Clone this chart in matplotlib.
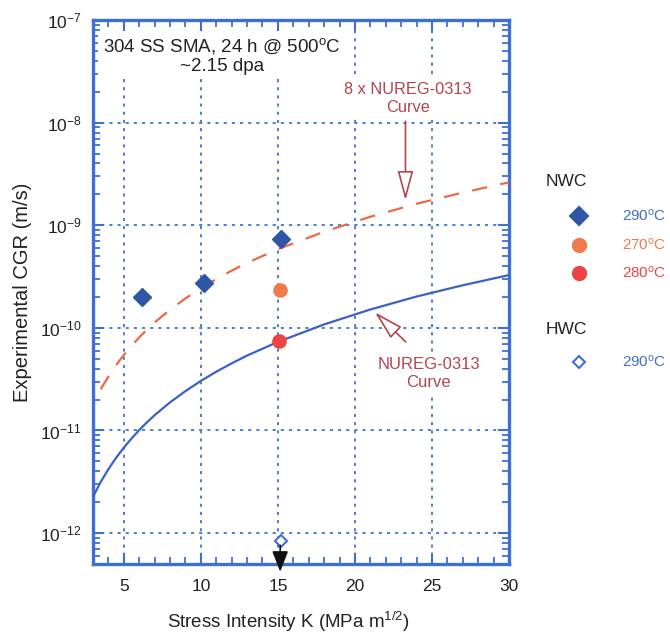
import matplotlib
matplotlib.use("Agg")
import matplotlib.pyplot as plt
from matplotlib.ticker import LogLocator, MultipleLocator, NullFormatter

plt.rcParams['font.family'] = ['Liberation Sans', 'DejaVu Sans']
plt.rcParams['mathtext.fontset'] = 'custom'
plt.rcParams['mathtext.rm'] = 'Liberation Sans'
plt.rcParams['mathtext.it'] = 'Liberation Sans'
plt.rcParams['mathtext.default'] = 'regular'

# NUREG-0313 disposition curve, CGR (m/s) vs K (MPa m^1/2)
K_nureg = [3, 3.5, 4, 4.5, 5, 5.5, 6, 6.5, 7, 8, 9, 10, 11, 12, 13, 15, 18, 21, 24, 27, 30]
cgr_nureg = [2.26e-12, 3.15e-12, 4.2e-12, 5.42e-12, 6.8e-12, 8.35e-12, 1.01e-11, 1.20e-11,
             1.41e-11, 1.88e-11, 2.42e-11, 3.04e-11, 3.74e-11, 4.51e-11, 5.37e-11, 7.3e-11,
             1.08e-10, 1.51e-10, 2.02e-10, 2.60e-10, 3.27e-10]

# 8 x NUREG-0313 curve
K_8x = [3.5, 4, 4.5, 5, 5.5, 6, 6.5, 7, 8, 9, 10, 11, 12, 13, 15, 18, 21, 24, 27, 30]
cgr_8x = [2.52e-11, 3.36e-11, 4.34e-11, 5.44e-11, 6.68e-11, 8.08e-11, 9.6e-11, 1.13e-10,
          1.50e-10, 1.94e-10, 2.43e-10, 2.99e-10, 3.61e-10, 4.30e-10, 5.84e-10, 8.64e-10,
          1.21e-9, 1.62e-9, 2.08e-9, 2.62e-9]

# Measured crack growth rates
K_nwc290 = [6.2, 10.2, 15.2]
cgr_nwc290 = [2.0e-10, 2.75e-10, 7.4e-10]
K_nwc270 = [15.15]
cgr_nwc270 = [2.33e-10]
K_nwc280 = [15.1]
cgr_nwc280 = [7.4e-11]
K_hwc290 = [15.2]
cgr_hwc290 = [8.4e-13]

x_ticks = [5, 10, 15, 20, 25, 30]

BLUE_AX = '#3f6fcf'
BLUE_GRID = '#4a7fd4'
BLUE_LINE = '#3a62c2'
DIAMOND = '#2f56a6'
ORANGE = '#f07a4c'
RED = '#ec4444'
DASH = '#ea6a44'
ANNOT = '#b4444e'
TEXT = '#222222'

W, H = 670, 634
fig = plt.figure(figsize=(W / 100, H / 100), dpi=100)
ax = fig.add_axes([93 / W, 1 - 564 / H, 416 / W, 544 / H])

ax.set_yscale('log')
ax.set_xlim(3, 30)
ax.set_ylim(5e-13, 1e-7)

ax.plot(K_nureg, cgr_nureg, color=BLUE_LINE, lw=1.6, zorder=3)
ax.plot(K_8x, cgr_8x, color=DASH, lw=1.6, linestyle=(0, (7, 6)), zorder=3)

ax.plot(K_nwc290, cgr_nwc290, 'D', color=DIAMOND, ms=9, mec=DIAMOND, zorder=5)
ax.plot(K_nwc270, cgr_nwc270, 'o', color=ORANGE, ms=9.5, mec=ORANGE, zorder=5)
ax.plot(K_nwc280, cgr_nwc280, 'o', color=RED, ms=9.5, mec=RED, zorder=5)
ax.plot(K_hwc290, cgr_hwc290, 'D', color=BLUE_AX, ms=6, mfc='white', mew=1.5, zorder=6)

# Downward arrow: HWC rate is an upper bound
ax.annotate('', xy=(15.15, 4.2e-13), xytext=(15.15, 7.6e-13),
            arrowprops=dict(arrowstyle='-|>,head_length=0.9,head_width=0.35',
                            color='#111111', lw=1.2, mutation_scale=14,
                            shrinkA=0, shrinkB=0),
            annotation_clip=False, zorder=7)

# Grid and ticks
ax.xaxis.set_major_locator(MultipleLocator(5))
ax.xaxis.set_minor_locator(MultipleLocator(1))
ax.yaxis.set_major_locator(LogLocator(base=10, numticks=20))
ax.yaxis.set_minor_locator(LogLocator(base=10, subs=range(2, 10), numticks=20))
ax.yaxis.set_minor_formatter(NullFormatter())
ax.set_xticks(x_ticks)
ax.set_xticklabels([str(v) for v in x_ticks])
ax.grid(True, which='major', color=BLUE_GRID, linestyle=(0, (1.6, 2.6)), lw=1.4)
ax.set_axisbelow(True)

ax.tick_params(which='both', direction='in', top=True, right=True, colors=BLUE_AX,
               labelcolor=TEXT, labelsize=12.5)
ax.tick_params(which='major', length=8, width=1.5)
ax.tick_params(axis='x', which='major', pad=11)
ax.tick_params(axis='y', which='major', pad=8)
ax.tick_params(which='minor', length=5, width=1.3)
for s in ax.spines.values():
    s.set_color(BLUE_AX)
    s.set_linewidth(2.4)

ax.set_xlabel('Stress Intensity K (MPa m$^{1/2}$)', fontsize=13.5, color=TEXT, labelpad=12)
ax.xaxis.set_label_coords(0.47, -0.085)
ax.set_ylabel('Experimental CGR (m/s)', fontsize=14.5, color=TEXT, labelpad=6)

# Annotations
ax.text(0.31, 0.935, '304 SS SMA, 24 h @ 500$^{o}$C\n~2.15 dpa', transform=ax.transAxes,
        ha='center', va='center', fontsize=13.5, color=TEXT, linespacing=1.1,
        bbox=dict(boxstyle='square,pad=0.25', fc='white', ec='none'), zorder=4)

ax.text(23.45, 1.72e-8, '8 x NUREG-0313\nCurve', ha='center', va='center',
        fontsize=11.8, color=ANNOT, linespacing=1.3,
        bbox=dict(boxstyle='square,pad=0.15', fc='white', ec='none'), zorder=4)
ax.annotate('', xy=(23.28, 1.75e-9), xytext=(23.28, 1.03e-8),
            arrowprops=dict(arrowstyle='-|>,head_length=1.3,head_width=0.35',
                            color=ANNOT, fc='white', lw=1.2, mutation_scale=14,
                            shrinkA=0, shrinkB=0), zorder=6)

ax.text(24.8, 3.6e-11, 'NUREG-0313\nCurve', ha='center', va='center',
        fontsize=12, color=ANNOT, linespacing=1.3,
        bbox=dict(boxstyle='square,pad=0.15', fc='white', ec='none'), zorder=4)
ax.annotate('', xy=(21.3, 1.42e-10), xytext=(23.3, 7.3e-11),
            arrowprops=dict(arrowstyle='-|>,head_length=1.3,head_width=0.35',
                            color=ANNOT, fc='white', lw=1.2, mutation_scale=14,
                            shrinkA=0, shrinkB=0), zorder=6)

# Key on the right
def fx(px):
    return px / W

def fy(py):
    return 1 - py / H

fig.text(fx(546), fy(182), 'NWC', fontsize=12.5, color=TEXT, va='center', ha='left')
fig.text(fx(546), fy(330), 'HWC', fontsize=12.5, color=TEXT, va='center', ha='left')
key = [
    (216, 'D', DIAMOND, DIAMOND, 9, '290$^{o}$C', BLUE_AX),
    (245, 'o', ORANGE, ORANGE, 9.5, '270$^{o}$C', ORANGE),
    (273, 'o', RED, RED, 9.5, '280$^{o}$C', RED),
    (362, 'D', 'white', BLUE_AX, 6.5, '290$^{o}$C', BLUE_AX),
]
for py, mk, fc, ec, ms, label, tc in key:
    fig.add_artist(plt.Line2D([fx(579)], [fy(py)], marker=mk, ms=ms, mfc=fc, mec=ec,
                              mew=1.5, linestyle='none', transform=fig.transFigure))
    fig.text(fx(622), fy(py), label, fontsize=11, color=tc, va='center', ha='left')

fig.savefig('out.png', dpi=100)
